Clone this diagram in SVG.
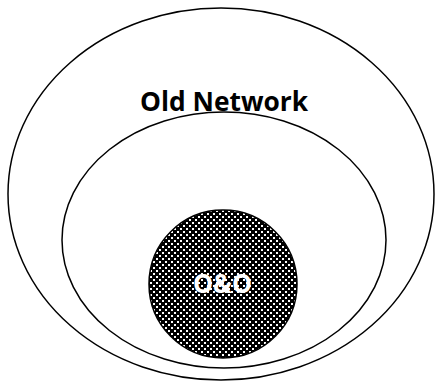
<svg xmlns="http://www.w3.org/2000/svg" width="436" height="383" viewBox="0 0 436 383">
<style>
.ring{fill:none;stroke:#000;stroke-width:1.5}
.lbl{font-family:"Open Sans","Liberation Sans",sans-serif;font-weight:bold}
</style>
<defs>
<pattern id="hatch" width="6" height="6" patternUnits="userSpaceOnUse">
<rect width="6" height="6" fill="#000"/>
<rect x="0" y="0" width="2" height="2" fill="#fff"/>
<rect x="3" y="3" width="2" height="2" fill="#fff"/>
</pattern>
</defs>
<rect width="436" height="383" fill="#fff"/>
<g id="old-network">
<ellipse class="ring" cx="221" cy="194" rx="213" ry="186"/>
<text class="lbl" x="140" y="111" font-size="26" textLength="168" lengthAdjust="spacingAndGlyphs">Old Network</text>
</g>
<g id="inner">
<ellipse class="ring" cx="224" cy="240" rx="162" ry="128"/>
</g>
<g id="oo">
<circle cx="223" cy="284" r="74" fill="url(#hatch)" stroke="#000" stroke-width="1.5"/>
<text class="lbl" x="193" y="293" font-size="27" fill="#fff" textLength="59" lengthAdjust="spacingAndGlyphs">O&amp;O</text>
</g>
<g id="connectors"/>
</svg>
